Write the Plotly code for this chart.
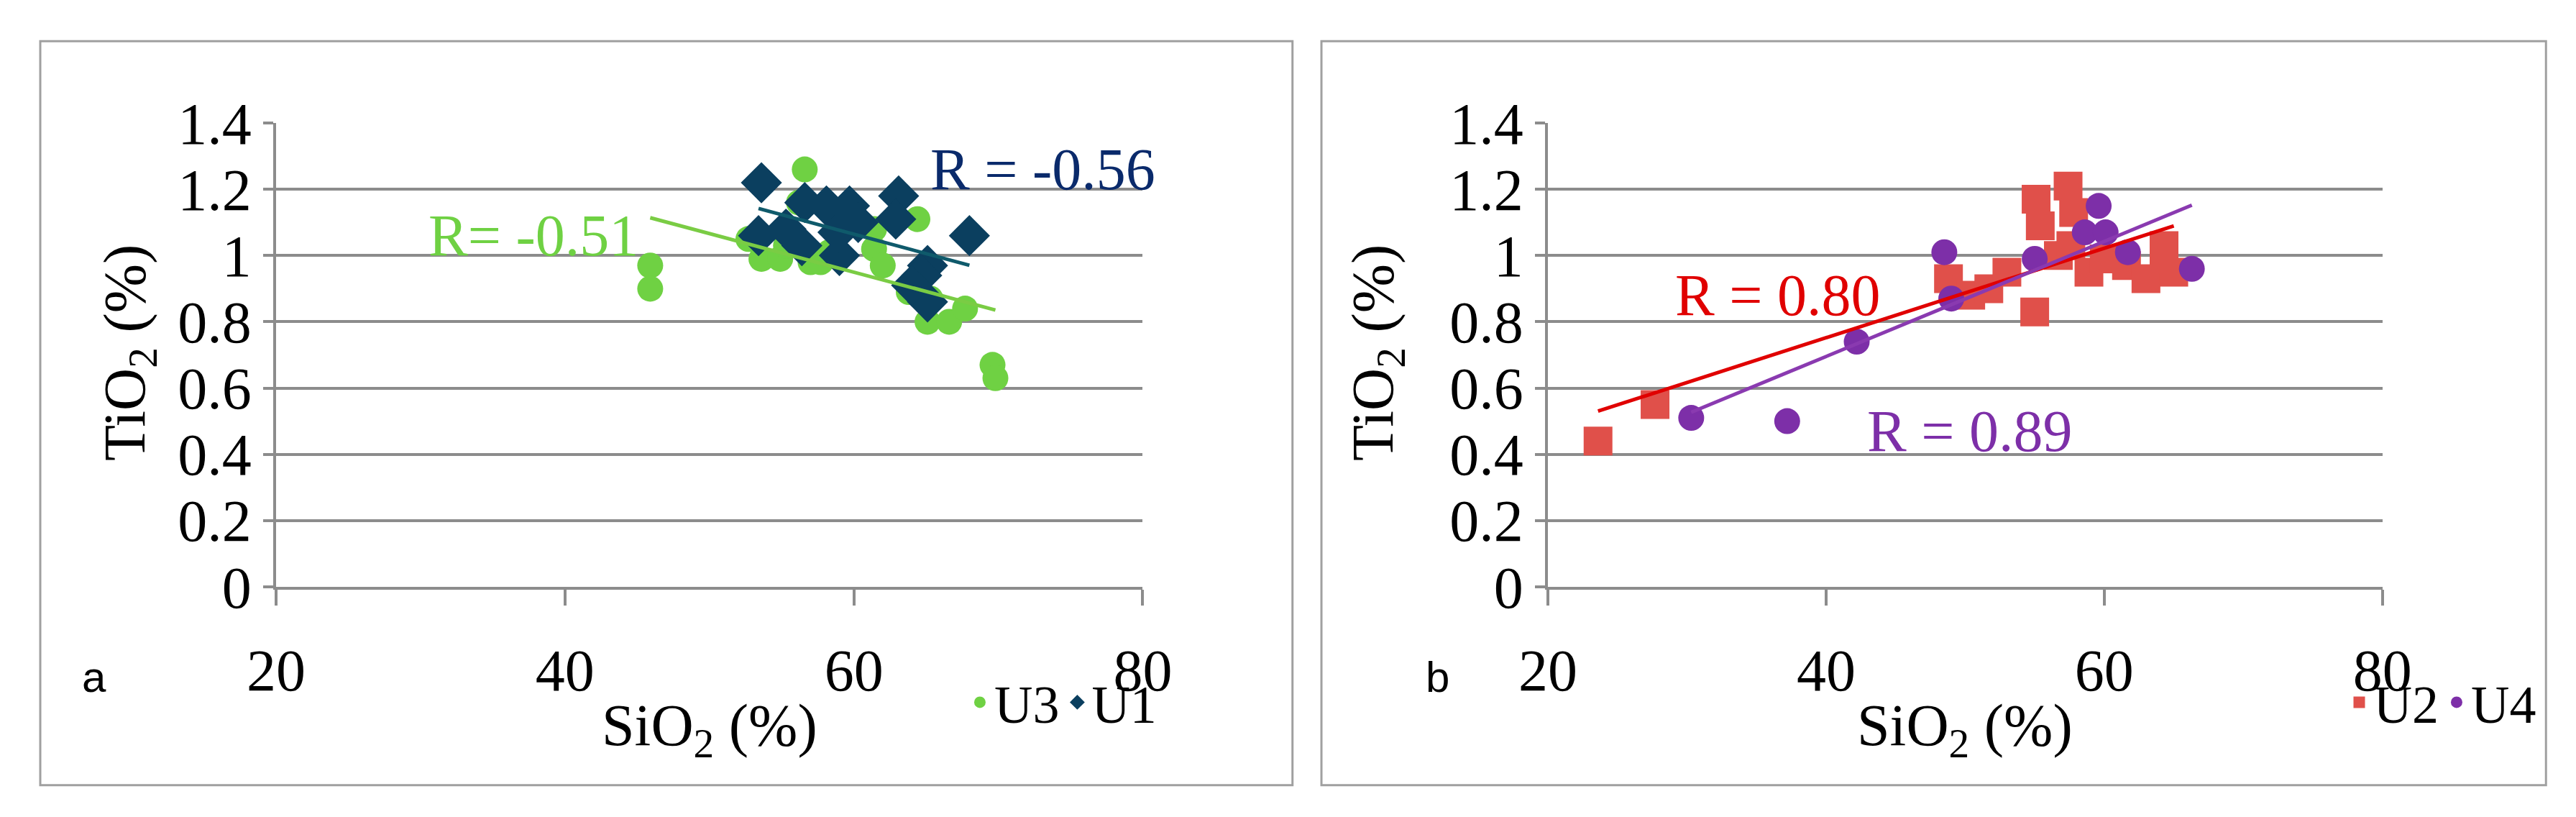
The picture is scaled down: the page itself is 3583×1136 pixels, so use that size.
import numpy as np
import plotly.graph_objects as go
from plotly.subplots import make_subplots

# panel a
u3_x = [45.9, 45.9, 56.6, 56.2, 52.7, 53.6, 54.9, 57.0, 57.7, 64.4, 61.4, 61.4, 62.0,
        63.8, 65.3, 65.1, 66.6, 67.7, 69.6, 69.8, 55.3, 58.3]
u3_y = [0.97, 0.90, 1.26, 1.16, 1.05, 0.99, 0.99, 0.98, 0.98, 1.11, 1.08, 1.02, 0.97,
        0.89, 0.87, 0.80, 0.80, 0.84, 0.67, 0.63, 1.03, 1.01]
u1_x = [53.6, 53.4, 55.3, 56.4, 56.6, 58.1, 59.0, 59.7, 60.3, 58.9, 63.1, 62.9, 68.0,
        65.1, 64.7, 65.1, 64.0]
u1_y = [1.22, 1.06, 1.08, 1.03, 1.16, 1.15, 1.00, 1.15, 1.10, 1.07, 1.18, 1.11, 1.06,
        0.97, 0.94, 0.86, 0.91]

# panel b
u2_x = [23.6, 27.7, 48.8, 50.4, 51.7, 53.0, 55.0, 55.1, 55.4, 57.4, 57.8, 56.7, 57.6,
        58.9, 60.0, 61.6, 63.0, 64.3, 65.0, 64.3]
u2_y = [0.44, 0.55, 0.93, 0.88, 0.90, 0.95, 0.83, 1.17, 1.09, 1.21, 1.13, 1.00, 1.03,
        0.95, 0.99, 0.97, 0.93, 1.03, 0.95, 0.99]
u4_x = [30.3, 37.2, 42.2, 49.0, 48.5, 55.0, 59.6, 58.6, 60.1, 61.7, 66.3]
u4_y = [0.51, 0.50, 0.74, 0.87, 1.01, 0.99, 1.15, 1.07, 1.07, 1.01, 0.96]

SERIF = "Liberation Serif"
GRID = "#8c8c8c"
FS = 82


def trend(xs, ys):
    k, b = np.polyfit(xs, ys, 1)
    xr = np.array([min(xs), max(xs)])
    return xr, k * xr + b


fig = make_subplots(rows=1, cols=2)

fig.add_trace(go.Scatter(x=u3_x, y=u3_y, mode="markers", name="U3",
    marker=dict(symbol="circle", size=36, color="#6fd143"), legend="legend"), row=1, col=1)
fig.add_trace(go.Scatter(x=u1_x, y=u1_y, mode="markers", name="U1",
    marker=dict(symbol="diamond", size=44, color="#0b3f5f"), legend="legend"), row=1, col=1)
tx, ty = trend(u3_x, u3_y)
fig.add_trace(go.Scatter(x=tx, y=ty, mode="lines", line=dict(color="#7acc44", width=5),
    showlegend=False), row=1, col=1)
tx, ty = trend(u1_x, u1_y)
fig.add_trace(go.Scatter(x=tx, y=ty, mode="lines", line=dict(color="#0f5a6b", width=5),
    showlegend=False), row=1, col=1)

fig.add_trace(go.Scatter(x=u2_x, y=u2_y, mode="markers", name="U2",
    marker=dict(symbol="square", size=40, color="#e0504a"), legend="legend2"), row=1, col=2)
fig.add_trace(go.Scatter(x=u4_x, y=u4_y, mode="markers", name="U4",
    marker=dict(symbol="circle", size=36, color="#7d2fa8"), legend="legend2"), row=1, col=2)
tx, ty = trend(u2_x, u2_y)
fig.add_trace(go.Scatter(x=tx, y=ty, mode="lines", line=dict(color="#e00000", width=5),
    showlegend=False), row=1, col=2)
tx, ty = trend(u4_x, u4_y)
fig.add_trace(go.Scatter(x=tx, y=ty, mode="lines", line=dict(color="#8a3ab0", width=5),
    showlegend=False), row=1, col=2)

axis_x = dict(range=[20, 80], tickvals=[20, 40, 60, 80], showgrid=False, zeroline=False,
              showline=True, linecolor=GRID, linewidth=4, ticks="outside", ticklen=22,
              tickwidth=4, tickcolor=GRID, ticklabelstandoff=20,
              tickfont=dict(family=SERIF, size=FS, color="black"))
axis_y = dict(range=[0, 1.4], tickvals=[0, 0.2, 0.4, 0.6, 0.8, 1, 1.2, 1.4],
              ticktext=["0", "0.2", "0.4", "0.6", "0.8", "1", "1.2", "1.4"],
              showgrid=True, gridcolor=GRID, gridwidth=4, zeroline=False,
              showline=True, linecolor=GRID, linewidth=4, ticks="outside", ticklen=14,
              tickwidth=4, tickcolor=GRID, tickfont=dict(family=SERIF, size=FS, color="black"))

fig.update_xaxes(**axis_x)
fig.update_yaxes(**axis_y)
fig.update_layout(
    xaxis=dict(domain=[0.0957, 0.440]), xaxis2=dict(domain=[0.601, 0.9325]),
    yaxis=dict(domain=[0.269, 0.886]), yaxis2=dict(domain=[0.269, 0.886]),
)

for xr, yr in [("x domain", "y domain"), ("x2 domain", "y2 domain")]:
    fig.add_annotation(xref=xr, yref=yr, x=0.5, y=-0.39, text="SiO<sub>2</sub> (%)",
                       showarrow=False, font=dict(family=SERIF, size=FS, color="black"))
for x in [0.022, 0.533]:
    fig.add_annotation(xref="paper", yref="paper", x=x, y=0.58, text="TiO<sub>2</sub> (%)",
                       textangle=-90, showarrow=False,
                       font=dict(family=SERIF, size=FS, color="black"))
for x, t in [(0.018, "a"), (0.557, "b")]:
    fig.add_annotation(xref="paper", yref="paper", x=x, y=0.115, text=t, showarrow=False,
                       font=dict(family="Liberation Sans", size=60, color="black"))

fig.add_annotation(xref="x", yref="y", x=37.8, y=1.06, text="R= -0.51", showarrow=False,
                   font=dict(family=SERIF, size=FS, color="#6fd143"))
fig.add_annotation(xref="x", yref="y", x=73.1, y=1.26, text="R = -0.56", showarrow=False,
                   font=dict(family=SERIF, size=FS, color="#0a2a6b"))
fig.add_annotation(xref="x2", yref="y2", x=36.5, y=0.88, text="R = 0.80", showarrow=False,
                   font=dict(family=SERIF, size=FS, color="#e00000"))
fig.add_annotation(xref="x2", yref="y2", x=50.3, y=0.47, text="R = 0.89", showarrow=False,
                   font=dict(family=SERIF, size=FS, color="#7d2fa8"))

# panel frames
for x0, x1 in [(0.002, 0.4995), (0.511, 0.9975)]:
    fig.add_shape(type="rect", xref="paper", yref="paper", x0=x0, x1=x1, y0=0.005, y1=0.995,
                  line=dict(color="#a0a0a0", width=3))

leg = dict(orientation="h", yanchor="middle", xanchor="right", y=0.115,
           font=dict(family=SERIF, size=74, color="black"), bgcolor="rgba(0,0,0,0)",
           itemsizing="trace", itemwidth=30)
fig.update_layout(
    width=3583, height=1136, margin=dict(l=0, r=0, t=0, b=0),
    plot_bgcolor="white", paper_bgcolor="white",
    legend=dict(leg, x=0.447), legend2=dict(leg, x=0.995),
)

fig.write_html("out.html")
